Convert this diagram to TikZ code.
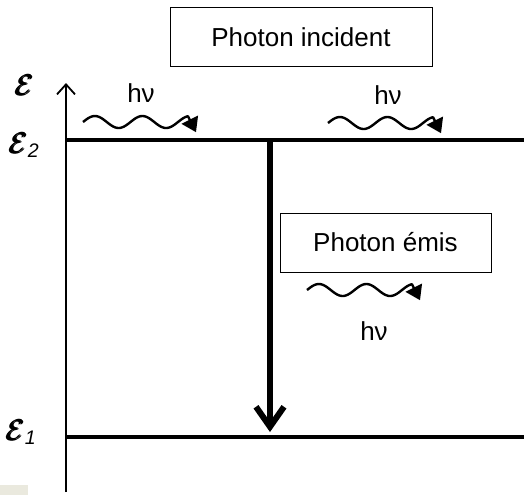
\documentclass[tikz,border=0pt]{standalone}
\usepackage{fontspec}
\usepackage{amsmath}
\setmainfont{Liberation Sans}
\usetikzlibrary{arrows.meta}

\begin{document}
\begin{tikzpicture}[x=0.5pt, y=-0.5pt,
    level/.style={line width=2pt},
    photon/.style={line width=1.2pt, line join=round, -{Triangle[length=7pt,width=9pt]}},
    labelbox/.style={draw, line width=0.5pt, minimum width=131pt, minimum height=29.5pt, inner sep=0pt, font=\fontsize{13}{15}\selectfont},
    hnu/.style={font=\fontsize{13}{15}\selectfont},
    energy/.style={font=\fontsize{14}{16}\selectfont}]
                \useasboundingbox (0,0) rectangle (524,495);
                % tache grise
                \fill[gray!20!white!95!yellow] (0,485) rectangle (28,495);
                % axe des energies
                \coordinate (O) at (66,492);
                \coordinate (top) at (66,83);
                \draw[line width=0.9pt, -{Straight Barb[length=5pt,width=9pt]}] (O) -- (top);
                \node[energy] (Eaxis) at (25,85) {$\pmb{\mathcal{E}}$};
                % niveaux
                \coordinate (L2a) at (66,140);
                \coordinate (L2b) at (524,140);
                \coordinate (L1a) at (66,437);
                \coordinate (L1b) at (524,437);
                \draw[level] (L2a) -- (L2b);
                \draw[level] (L1a) -- (L1b);
                \node[energy] (Etwo) at (25,145) {$\pmb{\mathcal{E}}_{\mathit{2}}$};
                \node[energy] (Eone) at (22,432) {$\pmb{\mathcal{E}}_{\mathit{1}}$};
                % transition
                \coordinate (drop) at (270,140);
                \coordinate (land) at (270,432);
                \draw[line width=3pt, -{Straight Barb[length=10pt,width=14pt]}] (drop) -- (land);
                % boites
                \node[labelbox] (incident) at (301,37) {Photon incident};
                \node[labelbox, minimum width=105.5pt] (emis) at (385.5,242.5) {Photon émis};
                % photons
                \foreach \xs/\ys in {83/122, 328/123, 307/290}
                    \draw[photon] plot[domain=0:105, samples=70] ({\xs+\x}, {\ys-6*sin(\x/47.5*360)}) -- ++(8,16);
                \node[hnu] (hnuIn) at (141,93) {hν};
                \node[hnu] (hnuOut) at (388,95) {hν};
                \node[hnu] (hnuEm) at (374,331) {hν};
            \end{tikzpicture}
\end{document}
